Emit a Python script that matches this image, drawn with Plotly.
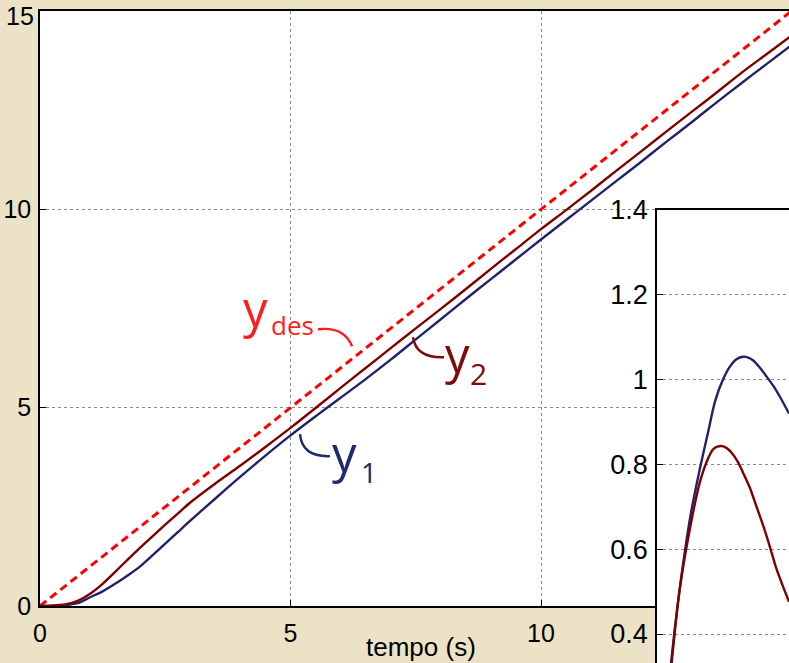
import plotly.graph_objects as go

W, H = 789, 663

# ---- data: main plot (tempo in s) ----
t_main = [0, 0.25, 0.5, 0.75, 1.0, 1.25, 1.5, 1.75, 2.0, 2.25, 2.5, 2.75, 3.0,
          3.5, 4.0, 4.5, 5.0, 5.5, 6.0, 6.5, 7.0, 7.5, 8.0, 8.5, 9.0, 9.5,
          10.0, 10.5, 11.0, 11.5, 12.0, 12.5, 13.0, 13.5, 14.0, 14.5, 15.0]
y1 = [0, 0.005, 0.02, 0.07, 0.22, 0.37, 0.56, 0.77, 1.00, 1.28, 1.57, 1.86, 2.15,
      2.71, 3.26, 3.79, 4.30, 4.78, 5.25, 5.72, 6.21, 6.72, 7.23, 7.74, 8.24, 8.74,
      9.24, 9.73, 10.22, 10.71, 11.20, 11.70, 12.19, 12.69, 13.18, 13.66, 14.14]
y2 = [0, 0.01, 0.04, 0.13, 0.31, 0.56, 0.86, 1.17, 1.47, 1.76, 2.05, 2.33, 2.61,
      3.09, 3.54, 4.01, 4.49, 4.99, 5.50, 6.00, 6.50, 7.00, 7.49, 7.99, 8.50, 9.00,
      9.50, 9.98, 10.47, 10.97, 11.46, 11.96, 12.45, 12.94, 13.44, 13.91, 14.38]
t_des = [0, 15]
y_des = [0, 15]

# ---- data: inset (error) ----
t_in_1 = [0, 0.1, 0.25, 0.4, 0.6, 0.75, 0.92, 1.04, 1.18, 1.3, 1.42, 1.54, 1.63,
          1.72, 1.84, 1.96, 2.08, 2.2, 2.36]
e1_in = [0, 0.12, 0.33, 0.50, 0.68, 0.78, 0.88, 0.95, 1.0, 1.03, 1.048, 1.054, 1.052,
         1.045, 1.028, 1.007, 0.985, 0.959, 0.92]
t_in_2 = [0, 0.1, 0.26, 0.4, 0.62, 0.77, 0.9, 1.0, 1.08, 1.17, 1.25, 1.33, 1.45,
          1.54, 1.66, 1.78, 1.9, 2.02, 2.12, 2.23, 2.36]
e2_in = [0, 0.12, 0.33, 0.50, 0.67, 0.76, 0.81, 0.835, 0.842, 0.843, 0.838, 0.828, 0.805,
         0.78, 0.745, 0.70, 0.655, 0.605, 0.56, 0.52, 0.476]

main_ticks = [0, 5, 10, 15]
main_ticktext = ["0", "5", "10", ""]   # "15" is placed as an annotation (kept inside the page)
inset_ticks = [0.4, 0.6, 0.8, 1.0, 1.2, 1.4]
inset_ticktext = ["0.4", "0.6", "0.8", "1", "1.2", "1.4"]

RED = "#FF0000"
DRED = "#800000"
NAVY = "#20226B"
BEIGE = "#ECE2C6"
TICKFONT = dict(family="Liberation Sans, Arial", size=25, color="black")
INSETFONT = dict(family="Liberation Sans, Arial", size=27, color="black")

fig = go.Figure()
fig.add_trace(go.Scatter(x=t_des, y=y_des, mode="lines",
                         line=dict(color=RED, width=3, dash="8px,5px"),
                         xaxis="x", yaxis="y", showlegend=False))
fig.add_trace(go.Scatter(x=t_main, y=y1, mode="lines",
                         line=dict(color=NAVY, width=2.4, shape="spline", smoothing=0.8),
                         xaxis="x", yaxis="y", showlegend=False))
fig.add_trace(go.Scatter(x=t_main, y=y2, mode="lines",
                         line=dict(color=DRED, width=2.4, shape="spline", smoothing=0.8),
                         xaxis="x", yaxis="y", showlegend=False))
fig.add_trace(go.Scatter(x=t_in_1, y=e1_in, mode="lines",
                         line=dict(color=NAVY, width=2.4, shape="spline", smoothing=0.8),
                         xaxis="x2", yaxis="y2", showlegend=False))
fig.add_trace(go.Scatter(x=t_in_2, y=e2_in, mode="lines",
                         line=dict(color=DRED, width=2.4, shape="spline", smoothing=0.8),
                         xaxis="x2", yaxis="y2", showlegend=False))


def px_x(p):
    return p / W


def px_y(p):
    return 1 - p / H


axis_common = dict(showline=True, linecolor="black", linewidth=1.5, mirror=True,
                   ticks="inside", ticklen=6, tickcolor="black", zeroline=False,
                   gridcolor="#8a8a8a", griddash="dot", gridwidth=1,
                   automargin=False, ticklabeloverflow="allow")

fig.update_layout(
    width=W, height=H,
    margin=dict(l=0, r=0, t=0, b=0, pad=0, autoexpand=False),
    paper_bgcolor=BEIGE, plot_bgcolor="white",
    showlegend=False,
    xaxis=dict(domain=[px_x(40), 1], range=[0, 14.95], tickvals=main_ticks,
               showgrid=True, anchor="y", ticklabelstandoff=4, tickfont=TICKFONT,
               **axis_common),
    yaxis=dict(domain=[px_y(606), px_y(11)], range=[0, 15], tickvals=main_ticks,
               ticktext=main_ticktext,
               showgrid=True, anchor="x", ticklabelstandoff=2, tickfont=TICKFONT,
               **axis_common),
    xaxis2=dict(domain=[px_x(657), 1], range=[0, 2.36], showgrid=False,
                showticklabels=False, anchor="y2", showline=True, linecolor="black",
                linewidth=1.5, mirror=True, ticks="", zeroline=False, automargin=False),
    yaxis2=dict(domain=[0, px_y(210)], range=[0.3316, 1.4], tickvals=inset_ticks,
                ticktext=inset_ticktext, showgrid=True, anchor="x2",
                ticklabelstandoff=2, tickfont=INSETFONT, **axis_common),
)

# top tick label of the main y axis
fig.add_annotation(x=px_x(36), y=px_y(16), xref="paper", yref="paper",
                   xanchor="right", yanchor="middle", showarrow=False, text="15",
                   font=TICKFONT)


def label(text, left, center, size, color):
    fig.add_annotation(x=px_x(left), y=px_y(center), xref="paper", yref="paper",
                       xanchor="left", yanchor="middle", showarrow=False, text=text,
                       font=dict(family="Open Sans", size=size, color=color))


label("y", 241, 308, 49, "#FF1E1E")
label("des", 269, 325, 26, "#FF1E1E")
label("y", 443, 354, 49, "#7E0A0A")
label("2", 468, 373, 30, "#7E0A0A")
label("y", 330, 453, 49, "#1E2A6E")
label("1", 359, 472, 28, "#1E2A6E")

fig.add_annotation(x=px_x(421), y=px_y(647), xref="paper", yref="paper",
                   xanchor="center", yanchor="middle", showarrow=False,
                   text="tempo (s)", font=dict(family="Liberation Sans, Arial", size=26, color="black"))


def dx(p):
    return (p - 40) / 50.1


def dy(p):
    return (606 - p) / 39.7


def arc(p0, c, p1, color):
    path = "M {:.3f},{:.3f} Q {:.3f},{:.3f} {:.3f},{:.3f}".format(
        dx(p0[0]), dy(p0[1]), dx(c[0]), dy(c[1]), dx(p1[0]), dy(p1[1]))
    fig.add_shape(type="path", path=path, xref="x", yref="y",
                  line=dict(color=color, width=2.4))


arc((318, 329), (344, 326), (352, 346), "#FF1E1E")
arc((413, 337), (416, 358), (444, 357), "#7E0A0A")
arc((300, 434), (302, 457), (330, 456), "#1E2A6E")

fig.write_html("out.html", config={"responsive": False, "displayModeBar": False},
               post_script="document.body.style.margin='0';document.body.style.padding='0';"
                           "document.body.style.overflow='hidden';"
                           "document.documentElement.style.overflow='hidden';")
